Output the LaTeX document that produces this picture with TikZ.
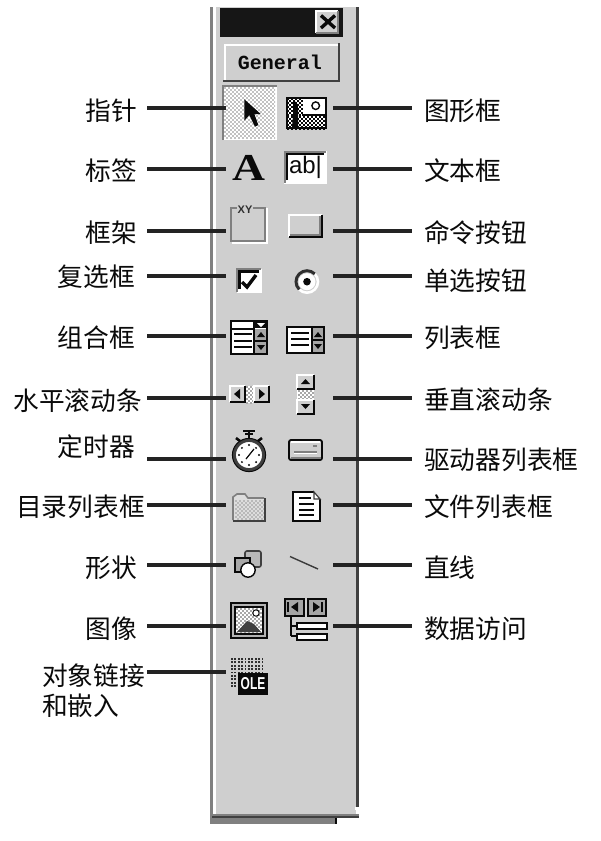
\documentclass[tikz,border=0pt]{standalone}
\usepackage{fontspec}
\newfontfamily\cjk{Noto Sans CJK SC}
\newfontfamily\monof{Liberation Mono}
\newfontfamily\sansf{Liberation Sans}
\newfontfamily\seriff{Liberation Serif}
\definecolor{panel}{HTML}{CFCFCF}
\definecolor{edgegray}{HTML}{808080}
\definecolor{edgedark}{HTML}{404040}
\definecolor{ink}{HTML}{0A0A0A}
\definecolor{dith}{HTML}{A8A8A8}
\tikzset{
  x=1pt,y=-1pt,
  lab/.style={font=\cjk\fontsize{25.7}{26}\selectfont,inner sep=0pt,text=ink},
  leader/.style={draw=ink!90,line width=3.2pt},
  box/.style={draw=ink,line width=2pt},
  thin line/.style={draw=ink,line width=1.8pt}
}
% bevel x0 y0 x1 y1 : light top-left, dark bottom-right
\newcommand{\bevelbox}[6]{%
  \fill[panel] (#1,#2) rectangle (#3,#4);
  \draw[draw=#5,line width=1.8pt] (#1,#4) -- (#1,#2) -- (#3,#2);
  \draw[draw=#6,line width=1.8pt] (#1,#4) -- (#3,#4) -- (#3,#2);
}
% checker dither x0 y0 x1 y1 colour
\newcommand{\dither}[5]{%
  \begin{scope}
    \clip (#1,#2) rectangle (#3,#4);
    \foreach \ix in {0,...,30}{\foreach \iy in {0,...,30}{%
      \pgfmathparse{int(mod(\ix+\iy,2))}%
      \ifnum\pgfmathresult=0
        \pgfmathsetmacro{\px}{#1+2*\ix}\pgfmathsetmacro{\py}{#2+2*\iy}%
        \ifdim\px pt<#3pt \ifdim\py pt<#4pt
          \fill[#5] (\px,\py) rectangle +(2,2);
        \fi\fi
      \fi}}
  \end{scope}
}
\begin{document}
\begin{tikzpicture}
\useasboundingbox (0,0) rectangle (600,841);
\fill[white] (0,0) rectangle (600,841);

% ---------- panel ----------
\fill[edgegray] (210,7) rectangle (335,824);
\fill[ink] (335,818) rectangle (337,824);
\fill[edgegray] (210,7) rectangle (213,818);
\fill[white] (213,7) rectangle (216,814);
\fill[panel] (216,7) rectangle (356,814);
\fill[edgedark] (356,7) rectangle (359,807);
\fill[white] (355,807) rectangle (359,809.5);
\fill[edgegray] (214,814) rectangle (359,816);
\fill[edgedark] (212,816) rectangle (359,818);

% title bar
\fill[ink!95!white] (220,8) rectangle (343,37);
\bevelbox{316}{11}{338}{33}{white}{edgegray}
\draw[ink,line width=3.4pt] (321,15.5) -- (335,28) (335,15.5) -- (321,28);

% General button
\fill[panel] (225,44) rectangle (339,80);
\draw[white,line width=2.4pt] (225,80) -- (225,45) -- (339,45);
\draw[edgedark,line width=2.8pt] (223,81) -- (339,81) -- (339,43);
\node[font=\monof\bfseries\fontsize{20}{20}\selectfont,inner sep=0pt,text=ink] (gen) at (280,62) {General};

% ---------- pointer ----------
\fill[white] (222,85) rectangle (277,140);
\dither{224}{87}{275}{138}{dith!70!white}
\draw[edgegray,line width=1.6pt] (223,140) -- (223,86) -- (277,86);
\fill[ink] (244.3,99.3) -- (244.3,120.7) -- (249.3,115) -- (255,126.7) -- (258.3,125) -- (254.3,114) -- (260.7,114) -- cycle;

% picture box
\fill[white] (286,97) rectangle (327,129);
\dither{287}{116}{327}{129}{ink}
\dither{287}{98}{303}{116}{ink}
\fill[ink] (293,102) .. controls (297,100) and (298,105) .. (298,110) -- (298,127) -- (292,127) -- (293,116) -- cycle;
\draw[ink,line width=1.2pt] (302,115) -- (327,115);
\draw[ink,line width=1.4pt] (315.7,105.7) circle (3.8);
\draw[ink,line width=2pt] (287,98) rectangle (326,128);

% A
\node[font=\seriff\bfseries\fontsize{38}{38}\selectfont,inner sep=0pt,text=ink,xscale=1.2] (iconA) at (249,167.5) {A};

% text box
\fill[white] (284,151) rectangle (327,184);
\draw[edgegray,line width=2pt] (285,183) -- (285,152) -- (326,152);
\draw[ink,line width=1.6pt] (287,180) -- (287,154) -- (324,154);
\node[font=\sansf\fontsize{24}{24}\selectfont,inner sep=0pt,text=ink] (ab) at (305.5,167.5) {ab|};

% frame
\draw[white,line width=2pt] (232,243) -- (266.5,243) -- (266.5,208);
\draw[edgegray,line width=2.4pt] (231,208) rectangle (265,241);
\fill[panel] (237,205) rectangle (253,212);
\node[font=\sansf\bfseries\fontsize{11}{11}\selectfont,inner sep=0pt,text=ink!85] (xy) at (245,210) {XY};

% command button
\bevelbox{289}{215}{322}{237}{white}{ink}
\draw[edgegray,line width=1.6pt] (290,235) -- (320,235) -- (320,216);

% check box
\fill[white] (237,269) rectangle (261,292);
\draw[white,line width=1.8pt] (237,292) -- (261,292) -- (261,269);
\draw[edgegray,line width=2.4pt] (237,292) -- (237,269) -- (261,269);
\draw[ink,line width=2.4pt] (239.5,289) -- (239.5,271.5) -- (259,271.5);
\draw[ink,line width=3.4pt] (242,282) -- (247,287) -- (256,275);

% radio
\draw[white,line width=2.6pt] (307,281.7) circle (11);
\draw[ink!85,line width=3pt] (307,281.7) ++(135:11) arc (135:315:11);
\fill[white] (307,281.7) circle (8.5);
\fill[ink] (307,281.7) circle (3.8);

% combo box
\fill[white] (231,321) rectangle (267,354);
\fill[edgegray!70] (255,329) rectangle (267,354);
\fill[ink] (254,321) rectangle (268,328);
\fill[white] (257,323) -- (265,323) -- (261,327) -- cycle;
\draw[box] (231,321) rectangle (267,354);
\draw[thin line] (254,321) -- (254,354) (231,329) -- (254,329) (255,341) -- (267,341);
\draw[thin line] (234,334) -- (252,334) (234,341) -- (252,341) (234,347) -- (252,347);
\fill[ink] (257,337) -- (265,337) -- (261,332) -- cycle;
\fill[ink] (257,345) -- (265,345) -- (261,350) -- cycle;

% list box
\fill[white] (287,327) rectangle (324,353);
\fill[edgegray!70] (313,327) rectangle (324,353);
\draw[box] (287,327) rectangle (324,353);
\draw[thin line] (312,327) -- (312,353) (313,340) -- (324,340);
\draw[thin line] (291,333) -- (309,333) (291,339) -- (309,339) (291,345) -- (309,345);
\fill[ink] (314,337) -- (322,337) -- (318,332) -- cycle;
\fill[ink] (314,344) -- (322,344) -- (318,349) -- cycle;

% horizontal scroll bar
\fill[white] (246,386) rectangle (253,403);
\dither{246}{386}{253}{403}{dith}
\bevelbox{230}{386}{245}{402}{white}{ink}
\bevelbox{254}{386}{269}{402}{white}{ink}
\fill[ink] (240,389) -- (240,399) -- (234,394) -- cycle;
\fill[ink] (259,389) -- (259,399) -- (265,394) -- cycle;

% vertical scroll bar
\fill[white] (297,390) rectangle (314,399);
\dither{298}{390}{314}{399}{dith}
\bevelbox{297}{375}{314}{389}{white}{ink}
\bevelbox{297}{400}{314}{414}{white}{ink}
\fill[ink] (301,384) -- (310,384) -- (305.5,379) -- cycle;
\fill[ink] (301,404) -- (310,404) -- (305.5,409) -- cycle;

% timer
\draw[ink,line width=1.6pt] (243,431) -- (255,431) (245,434) -- (253,434);
\draw[ink,line width=2.4pt] (249,431) -- (249,438);
\draw[ink,line width=2.6pt] (236,438) -- (240,441) (262,438) -- (258,441);
\fill[white] (249,455) circle (14);
\draw[edgedark,line width=3.4pt] (249,455) circle (14.8);
\draw[ink,line width=1pt] (249,455) circle (16.6);
\draw[ink,line width=1.2pt] (246,459) -- (254,449);
\foreach \a in {0,45,...,315}{\fill[ink] (249,455) ++(\a:10) circle (1.1);}

% drive
\fill[panel] (289,440) [rounded corners=2pt] rectangle (322,460);
\draw[ink,line width=1.8pt,rounded corners=2pt] (289,440) rectangle (322,460);
\draw[white,line width=1.2pt] (291,442) -- (320,442);
\draw[edgegray,line width=2pt] (291,458) -- (321,458);
\fill[edgegray] (313,444.5) rectangle (317,447);
\draw[edgegray,line width=1.2pt] (294,452) -- (317,452);
\draw[white,line width=1pt] (294,453.5) -- (317,453.5);

% folder
\fill[panel!70!white] (233,497) -- (237,494) -- (245,494) -- (248,498) -- (264,498) -- (264,520) -- (233,520) -- cycle;
\dither{235}{500}{264}{520}{dith!80!white}
\draw[edgegray,line width=1.6pt] (233,520) -- (233,497) -- (237,494) -- (245,494) -- (248,498) -- (264,498);
\draw[edgedark,line width=2pt] (233,521) -- (265,521) -- (265,498);

% file
\fill[white] (293,492) -- (314,492) -- (320,499) -- (320,521) -- (293,521) -- cycle;
\draw[ink,line width=2.2pt] (314,492) -- (293,492) -- (293,521) -- (320,521) -- (320,499);
\draw[edgedark,line width=1.2pt] (314,492) -- (314,499) -- (320,499) -- cycle;
\draw[thin line] (299,498) -- (311,498) (299,504) -- (314,504) (299,510) -- (314,510) (299,515) -- (314,515);

% shapes
\fill[dith!60!panel,rounded corners=2pt] (245,551) rectangle (261,567);
\draw[edgedark,line width=1.6pt,rounded corners=2pt] (245,551) rectangle (261,567);
\fill[dith] (235,558) rectangle (250,572);
\draw[ink,line width=1.6pt] (235,558) rectangle (250,572);
\fill[white] (248,570) circle (7);
\draw[ink,line width=1.4pt] (248,570) circle (7.2);

% line icon
\draw[ink!80,line width=1.4pt] (290,556.5) -- (318,569);

% image
\fill[edgegray!60] (231,603) rectangle (267,638);
\draw[box] (231,603) rectangle (267,638);
\fill[white] (236,608) rectangle (262,633);
\dither{236}{608}{262}{633}{dith}
\fill[white] (256,613) circle (3.2);
\draw[ink,line width=1pt] (256,613) circle (3.2);
\fill[edgedark] (237,632) -- (247,621) -- (254,624) -- (261,632) -- cycle;
\draw[box] (235,607) rectangle (263,634);

% data access
\fill[edgegray!70] (285,599) rectangle (304,616);
\fill[edgegray!70] (308,599) rectangle (326,616);
\draw[box] (285,599) rectangle (304,616);
\draw[box] (308,599) rectangle (326,616);
\draw[ink,line width=1.6pt] (288,602) -- (288,612);
\fill[ink] (298,602) -- (298,612) -- (291,607) -- cycle;
\draw[ink,line width=1.6pt] (322,602) -- (322,612);
\fill[ink] (313,602) -- (313,612) -- (320,607) -- cycle;
\draw[thin line] (291,617) -- (291,636) (291,626) -- (297,626) (291,636) -- (297,636);
\fill[white] (297,622) rectangle (327,629);
\fill[white] (297,633) rectangle (327,640);
\draw[ink,line width=1.6pt] (297,623) rectangle (327,629);
\draw[ink,line width=1.6pt] (297,634) rectangle (327,640);

% OLE
\foreach \ix in {0,...,9}{\foreach \iy in {0,...,8}{%
  \fill[ink!85] ({231+3.4*\ix},{658+3.4*\iy}) rectangle +(1.8,1.8);}}
\fill[ink] (238,673) rectangle (268,695);
\node[font=\sansf\bfseries\fontsize{15}{15}\selectfont,inner sep=0pt,text=white,xscale=.8,yscale=1.15] (ole) at (253,684) {OLE};

% ---------- connectors ----------
\foreach \n/\y in {a/108,b/169,c/231,d/276,e/336,f/398,g/459,h/505,i/565,j/626,k/672}{
  \coordinate (L\n) at (147,\y);
  \coordinate (Li\n) at (226,\y);
  \draw[leader] (L\n) -- (Li\n);
}
\foreach \n/\y in {a/108,b/169,c/231,d/276,e/336,f/398,g/459,h/505,i/565,j/626}{
  \coordinate (R\n) at (412,\y);
  \coordinate (Ri\n) at (333,\y);
  \draw[leader] (Ri\n) -- (R\n);
}

% ---------- labels ----------
\node[lab,anchor=east] (t1) at (137,110.5) {指针};
\node[lab,anchor=east] (t2) at (137,171) {标签};
\node[lab,anchor=east] (t3) at (137,233) {框架};
\node[lab,anchor=east] (t4) at (135,277) {复选框};
\node[lab,anchor=east] (t5) at (135,338) {组合框};
\node[lab,anchor=east] (t6) at (142,401) {水平滚动条};
\node[lab,anchor=east] (t7) at (135,447) {定时器};
\node[lab,anchor=east] (t8) at (145,507) {目录列表框};
\node[lab,anchor=east] (t9) at (137,568) {形状};
\node[lab,anchor=east] (t10) at (137,629) {图像};
\node[lab,anchor=west] (t11) at (42,676) {对象链接};
\node[lab,anchor=west] (t12) at (42,706) {和嵌入};
\node[lab,anchor=west] (r1) at (424,110.5) {图形框};
\node[lab,anchor=west] (r2) at (424,171) {文本框};
\node[lab,anchor=west] (r3) at (424,233) {命令按钮};
\node[lab,anchor=west] (r4) at (424,281) {单选按钮};
\node[lab,anchor=west] (r5) at (424,338) {列表框};
\node[lab,anchor=west] (r6) at (424,400) {垂直滚动条};
\node[lab,anchor=west] (r7) at (424,460) {驱动器列表框};
\node[lab,anchor=west] (r8) at (424,507) {文件列表框};
\node[lab,anchor=west] (r9) at (424,568) {直线};
\node[lab,anchor=west] (r10) at (424,629) {数据访问};
\end{tikzpicture}
\end{document}
